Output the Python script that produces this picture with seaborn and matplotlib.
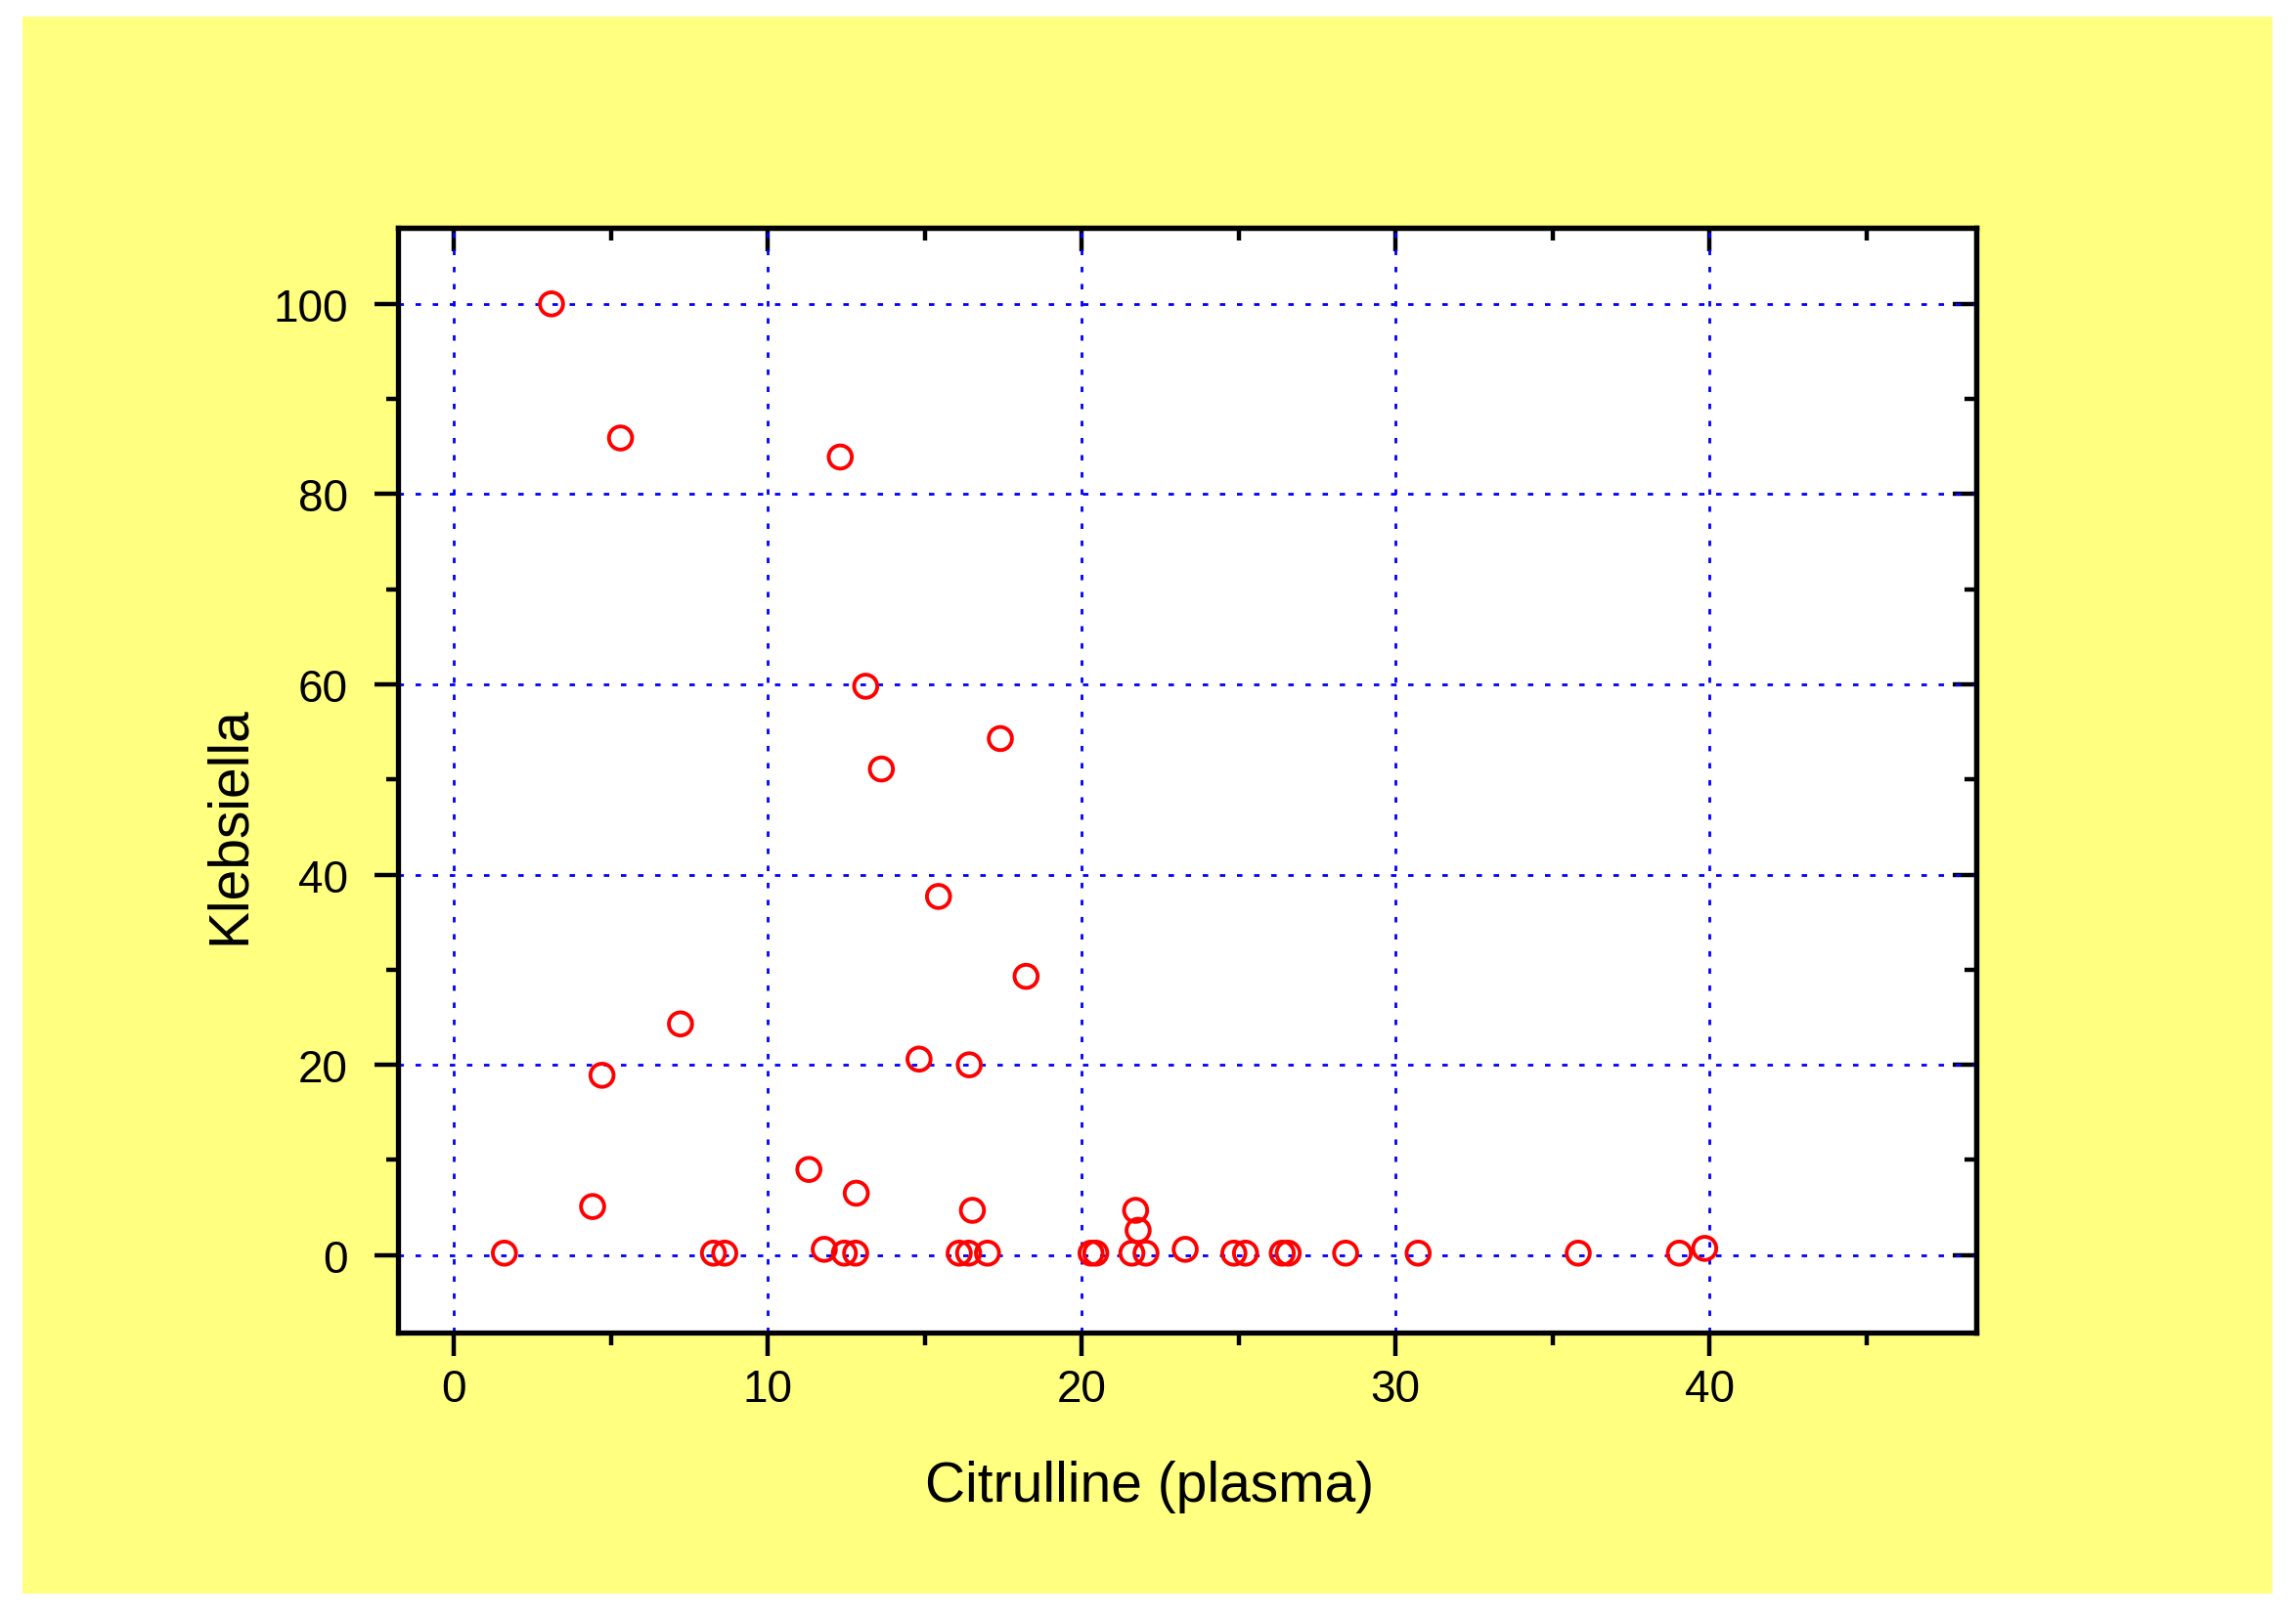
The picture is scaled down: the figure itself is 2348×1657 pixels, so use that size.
import matplotlib
matplotlib.use("Agg")
import matplotlib.pyplot as plt
import seaborn as sns
import numpy as np
import pandas as pd
from matplotlib.ticker import MultipleLocator
from matplotlib.patches import Rectangle

# ---- data ----
citrulline = [3.11, 5.31, 12.31, 13.12, 17.41, 13.62, 15.44, 18.23, 7.22, 14.82,
              16.42, 4.72, 11.31, 12.82, 4.42, 16.52, 21.72, 21.80,
              1.61, 8.27, 8.63, 11.80, 12.44, 12.80, 16.10, 16.40, 17.00, 20.30,
              20.45, 21.60, 22.05, 23.30, 24.85, 25.22, 26.39, 26.58, 28.41, 30.72,
              35.82, 39.04, 39.85]
klebsiella = [100.0, 85.9, 83.9, 59.8, 54.3, 51.1, 37.7, 29.3, 24.3, 20.6,
              20.0, 18.9, 9.0, 6.5, 5.1, 4.7, 4.7, 2.6,
              0.2, 0.2, 0.2, 0.6, 0.2, 0.2, 0.2, 0.2, 0.2, 0.2,
              0.2, 0.2, 0.2, 0.6, 0.2, 0.2, 0.2, 0.2, 0.2, 0.2,
              0.2, 0.2, 0.7]
x_major = [0, 10, 20, 30, 40]
y_major = [0, 20, 40, 60, 80, 100]
x_label = "Citrulline (plasma)"
y_label = "Klebsiella"

df = pd.DataFrame({"x": citrulline, "y": klebsiella})

sns.set_theme(style="white")
plt.rcParams["font.family"] = ["Liberation Sans", "DejaVu Sans"]
plt.rcParams["text.color"] = "black"
plt.rcParams["axes.labelcolor"] = "black"
plt.rcParams["xtick.color"] = "black"
plt.rcParams["ytick.color"] = "black"

fig = plt.figure(figsize=(23.48, 16.58), dpi=100)
fig.patch.set_facecolor("white")
fig.patches.append(Rectangle((23 / 2348, 1 - 1631 / 1658), (2324 - 23) / 2348, (1631 - 18) / 1658,
                             transform=fig.transFigure, facecolor="#FFFF80",
                             edgecolor="none", zorder=-10))

ax = fig.add_axes([407 / 2348, 1 - 1364 / 1658, (2021 - 407) / 2348, (1364 - 234) / 1658])
ax.set_zorder(5)
ax.set_facecolor("white")

sns.scatterplot(data=df, x="x", y="y", ax=ax, marker="o", s=290,
                facecolor="none", edgecolor="#FF0000", linewidth=2.8, zorder=3)

ax.set_xlim(-1.78, 48.5)
ax.set_ylim(-8.15, 108)
ax.set_xticks(x_major)
ax.set_yticks(y_major)
ax.xaxis.set_minor_locator(MultipleLocator(5))
ax.yaxis.set_minor_locator(MultipleLocator(10))

ax.grid(True, which="major", color="#0000FF", linewidth=2.0, linestyle=(0, (2.0, 4.3)))
ax.set_axisbelow(True)

for sp in ax.spines.values():
    sp.set_visible(True)
    sp.set_color("black")
    sp.set_linewidth(3.8)

ax.tick_params(axis="both", which="both", direction="out", color="black", width=3.2,
               top=False, right=False, bottom=True, left=True, labelcolor="black")
ax.tick_params(axis="both", which="major", length=17)
ax.tick_params(axis="both", which="minor", length=9)
ax.tick_params(axis="x", which="major", labelsize=33, pad=9)
ax.tick_params(axis="y", which="major", labelsize=33, pad=20)

# top & right: inward ticks, no labels
secx = ax.secondary_xaxis("top")
secx.set_xticks(x_major)
secx.xaxis.set_minor_locator(MultipleLocator(5))
secx.tick_params(which="both", direction="in", width=3.2, labeltop=False, color="black")
secx.tick_params(which="major", length=17)
secx.tick_params(which="minor", length=9)
secx.spines["top"].set_linewidth(3.8)

secy = ax.secondary_yaxis("right")
secy.set_yticks(y_major)
secy.yaxis.set_minor_locator(MultipleLocator(10))
secy.tick_params(which="both", direction="in", width=3.2, labelright=False, color="black")
secy.tick_params(which="major", length=17)
secy.tick_params(which="minor", length=9)
secy.spines["right"].set_linewidth(3.8)

ax.set_xlabel(x_label, fontsize=41, color="black")
ax.set_ylabel(y_label, fontsize=41, color="black")
ax.xaxis.label.set_va("center")
ax.yaxis.label.set_va("center")
ax.xaxis.set_label_coords(0.476, -0.139)
ax.yaxis.set_label_coords(-0.1066, 0.46)

fig.savefig("out.png", dpi=100, facecolor=fig.get_facecolor())
